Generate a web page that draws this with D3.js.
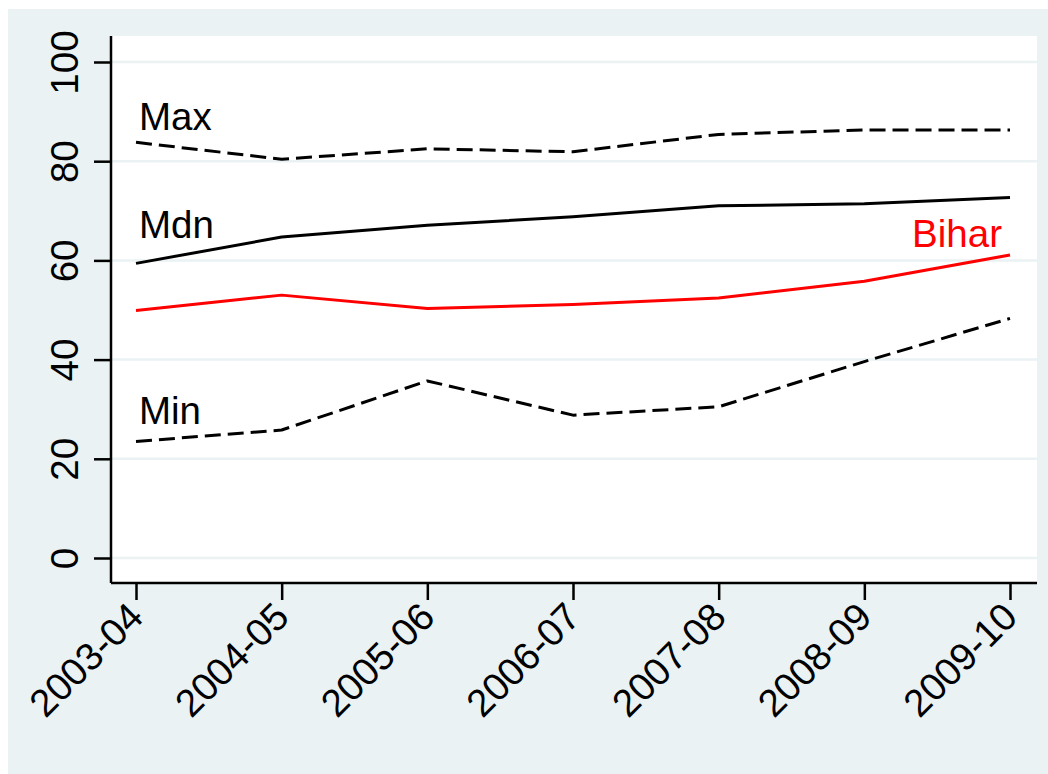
<!DOCTYPE html>
<html><head><meta charset="utf-8">
<script src="https://cdn.jsdelivr.net/npm/d3@7"></script>
<style>html,body{margin:0;padding:0;background:#fff;}svg{display:block;}</style>
</head><body>
<svg id="c" width="1048" height="774"></svg>
<script>
const years = ["2003-04","2004-05","2005-06","2006-07","2007-08","2008-09","2009-10"];
const maxVals = [83.8, 80.4, 82.5, 81.9, 85.4, 86.3, 86.3];
const mdnVals = [59.4, 64.7, 67.1, 68.8, 71.0, 71.4, 72.7];
const biharVals = [49.9, 53.0, 50.3, 51.1, 52.4, 55.8, 61.1];
const minVals = [23.5, 25.8, 35.7, 28.8, 30.5, 39.6, 48.3];
const yTicks = [0, 20, 40, 60, 80, 100];

const svg = d3.select("#c");
const font = "'Liberation Sans', Arial, Helvetica, sans-serif";
const fs = "38.5px";
svg.append("rect").attr("x",8).attr("y",9).attr("width",1040).attr("height",765).attr("fill","#eaf2f3");
const L=111, R=1037, T=36, B=583;
svg.append("rect").attr("x",L).attr("y",T).attr("width",R-L).attr("height",B-T).attr("fill","#fff");

const x = d3.scalePoint().domain(years).range([136,1010]);
const y = d3.scaleLinear().domain([0,100]).range([558,62]);

// grid
svg.append("g").selectAll("line").data(yTicks).join("line")
  .attr("x1",L).attr("x2",R).attr("y1",d=>y(d)).attr("y2",d=>y(d))
  .attr("stroke","#eaf2f3").attr("stroke-width",2.5);

// y axis
const ya = svg.append("g").attr("transform",`translate(${L},0)`)
  .call(d3.axisLeft(y).tickValues(yTicks).tickSize(17).tickPadding(0).tickFormat(d3.format("d")));
ya.select(".domain").attr("d",`M0,${T}V${B}`).attr("stroke","#000").attr("stroke-width",2.5);
ya.selectAll(".tick line").attr("stroke","#000").attr("stroke-width",2.5);
ya.selectAll(".tick text").attr("transform","translate(-33,0) rotate(-90)")
  .attr("text-anchor","middle").attr("x",0).attr("y",0).attr("dy","0")
  .style("font-family",font).style("font-size",fs).attr("fill","#000");

// x axis
const xa = svg.append("g").attr("transform",`translate(0,${B})`)
  .call(d3.axisBottom(x).tickSize(17).tickPadding(0));
xa.select(".domain").attr("d",`M${L},0H${R}`).attr("stroke","#000").attr("stroke-width",2.5);
xa.selectAll(".tick line").attr("stroke","#000").attr("stroke-width",2.5);
xa.selectAll(".tick text").attr("y",0).attr("dy","0")
  .attr("transform","translate(9,36) rotate(-45)")
  .attr("text-anchor","end")
  .style("font-family",font).style("font-size",fs).attr("fill","#000");

const line = d3.line().x((d,i)=>x(years[i])).y(d=>y(d));
function draw(vals,color,dash){
  svg.append("path").datum(vals).attr("d",line).attr("fill","none")
    .attr("stroke",color).attr("stroke-width",3).attr("stroke-dasharray",dash||null)
    .attr("stroke-linejoin","round");
}
draw(maxVals,"#000","16,7");
draw(mdnVals,"#000");
draw(biharVals,"#ff0000");
draw(minVals,"#000","16,7");

function label(t,xx,yy,color,anchor){
  svg.append("text").text(t).attr("x",xx).attr("y",yy).attr("fill",color)
    .attr("text-anchor",anchor||"start").style("font-family",font).style("font-size",fs);
}
label("Max", x(years[0])+3, y(maxVals[0])-12, "#000");
label("Mdn", x(years[0])+3, y(mdnVals[0])-25, "#000");
label("Min", x(years[0])+3, y(minVals[0])-17, "#000");
label("Bihar", x(years[6])-8, y(biharVals[6])-8, "#ff0000", "end");
</script>
</body></html>
